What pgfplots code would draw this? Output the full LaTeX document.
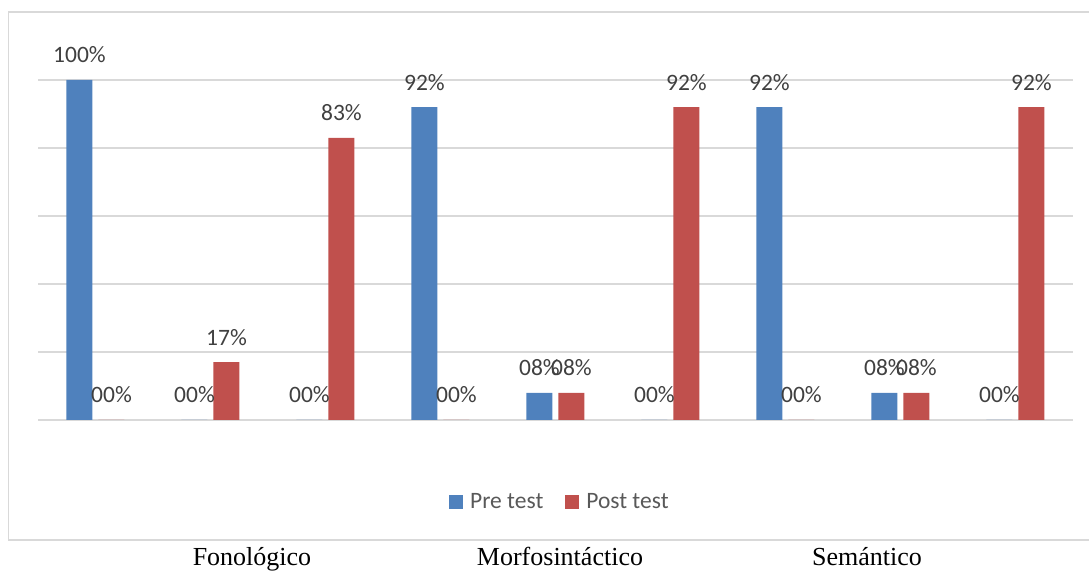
\documentclass[border=0pt]{standalone}
\usepackage{pgfplots}
\pgfplotsset{compat=1.18}
\usepackage{pgfplotstable}
\usepackage{fontspec}
\setmainfont{Carlito}
\newfontfamily\timesfont{Liberation Serif}
\definecolor{preblue}{HTML}{4F81BD}
\definecolor{postred}{HTML}{C0504D}
\definecolor{gridgray}{HTML}{D9D9D9}
\definecolor{labelgray}{HTML}{404040}
\definecolor{leggray}{HTML}{595959}
\pgfplotstableread{
x y label
0 100 100
1 0 00
2 0 00
3 92 92
4 8 08
5 0 00
6 92 92
7 8 08
8 0 00
}\pretable
\pgfplotstableread{
x y label
0 0 00
1 17 17
2 83 83
3 0 00
4 8 08
5 92 92
6 0 00
7 8 08
8 92 92
}\posttable
\begin{document}
\begin{tikzpicture}[x=1pt,y=1pt]
\useasboundingbox (0,0) rectangle (1089,570);
\draw[gridgray, line width=1.2pt] (1095,558) -- (8.5,558) -- (8.5,30) -- (1095,30);
\begin{axis}[at={(38pt,150pt)}, anchor=south west, scale only axis,
  width=1035pt, height=340pt,
  xmin=-0.5, xmax=8.5, ymin=0, ymax=100,
  ytick={0,20,...,100}, yticklabels={}, xtick=\empty,
  ymajorgrids, grid style={gridgray, line width=1.2pt},
  axis line style={draw=none}, major tick length=0pt,
  ybar=6pt, bar width=26pt,
  clip=false,
  point meta=explicit symbolic,
  nodes near coords={\pgfplotspointmeta\%},
  nodes near coords align={center},
  every node near coord/.append style={font=\fontsize{23.5}{28}\selectfont, text=labelgray, yshift=25pt, inner sep=0pt},
  legend style={at={(0.5043,-0.241)}, anchor=center, draw=none, fill=none,
    legend columns=2, font=\fontsize{23.5}{28}\selectfont, text=leggray,
    /tikz/every even column/.append style={column sep=20pt}},
  legend image code/.code={\fill[#1] (0pt,-7pt) rectangle (14pt,7pt);},
]
\addplot[fill=preblue, draw=none] table[x=x,y=y,meta=label]{\pretable};
\addplot[fill=postred, draw=none] table[x=x,y=y,meta=label]{\posttable};
\legend{\hspace{5pt}Pre test, \hspace{5pt}Post test}
\end{axis}
\node[anchor=base, font=\timesfont\fontsize{26}{30}\selectfont] at (252,5) {Fonológico};
\node[anchor=base, font=\timesfont\fontsize{26}{30}\selectfont] at (560,5) {Morfosintáctico};
\node[anchor=base, font=\timesfont\fontsize{26}{30}\selectfont] at (867,5) {Semántico};
\end{tikzpicture}
\end{document}
